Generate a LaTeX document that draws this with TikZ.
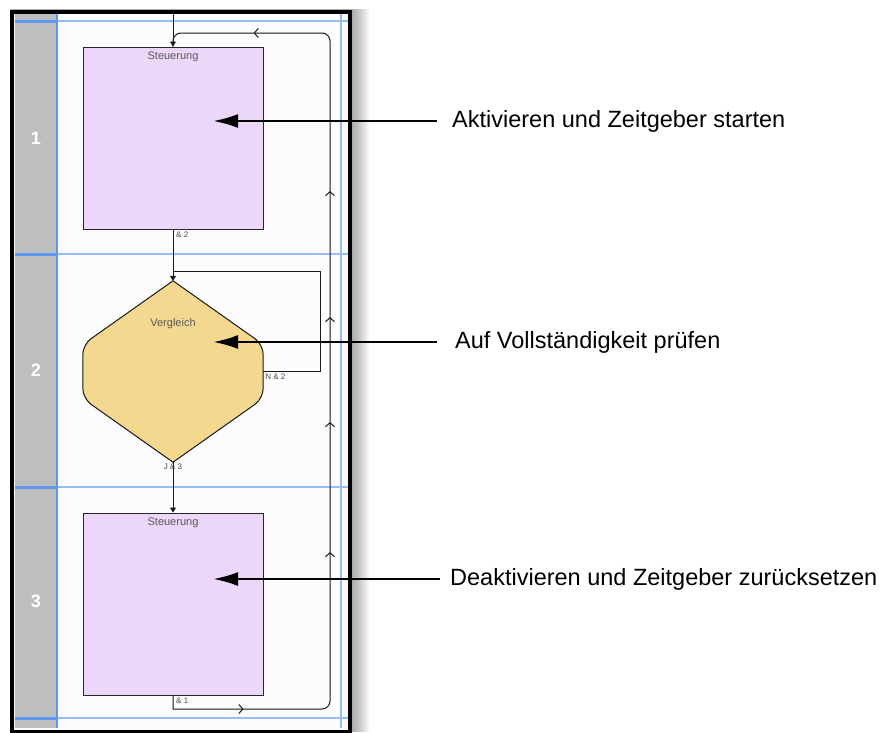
\documentclass[tikz,border=0pt]{standalone}
\usepackage{fontspec}
\setmainfont{Liberation Sans}
\usepackage{tikz}
\usetikzlibrary{calc,positioning,arrows.meta,decorations.markings,shapes}
\definecolor{lanegray}{RGB}{190,190,190}
\definecolor{laneblue}{RGB}{95,150,240}
\definecolor{gridblue}{RGB}{150,188,246}
\definecolor{steplilac}{RGB}{236,214,250}
\definecolor{decisionsand}{RGB}{245,216,143}
\definecolor{paper}{RGB}{252,251,253}
\tikzset{
  schritt/.style={
      draw=black!85,
      line width=1pt,
      fill=steplilac,
      minimum width=180pt,
      minimum height=182pt,
      inner sep=0pt,
  },
  vergleichbox/.style={
      minimum width=180pt,
      minimum height=181pt,
      inner sep=0pt,
  },
  fluss/.style={
      draw=black!90,
      line width=1pt,
  },
  flusspfeil/.style={
      fluss,
      -{Triangle[length=5pt,width=6pt]},
  },
  rueckfluss/.style={
      fluss,
      postaction={decorate},
      decoration={markings,
        mark=at position 84pt with {\arrow{Straight Barb[length=4pt,width=9pt]}},
        mark=at position 324pt with {\arrow{Straight Barb[length=4pt,width=9pt]}},
        mark=at position 454pt with {\arrow{Straight Barb[length=4pt,width=9pt]}},
        mark=at position 559pt with {\arrow{Straight Barb[length=4pt,width=9pt]}},
        mark=at position 685pt with {\arrow{Straight Barb[length=4pt,width=9pt]}},
        mark=at position 916pt with {\arrow{Straight Barb[length=4pt,width=9pt]}},
      },
  },
  kopf/.style={
      font=\fontsize{11}{11}\selectfont,
      text=black!65,
      inner sep=0pt,
  },
  ausgang/.style={
      font=\fontsize{8}{8}\selectfont,
      text=black!70,
      inner sep=1pt,
  },
  kommentar/.style={
      font=\fontsize{23.5}{26}\selectfont,
      anchor=west,
      inner sep=0pt,
  },
  zeiger/.style={
      line width=2.6pt,
      -{Latex[length=25pt,width=14pt]},
  },
  nummer/.style={
      text=white,
      font=\fontsize{18}{18}\selectfont\bfseries,
  },
}

\begin{document}
\begin{tikzpicture}[x=1pt,y=-1pt]
  \useasboundingbox (0,0) rectangle (886,732);

  % schatten und rahmen
  \foreach \k in {1,...,9}
    \fill[black,opacity=0.045] (10,9) rectangle (351+2*\k,732);
  \fill[paper] (12,12) rectangle (350,730);
  \fill[lanegray] (15,14) rectangle (56,728);

  % bahnen
  \foreach \y in {21,254,487,718} {
    \draw[gridblue,line width=1.2pt] (57,\y) -- (348,\y);
    \draw[laneblue,line width=3pt] (15,\y) -- (57,\y);
  }
  \draw[laneblue,line width=2.5pt] (57,14) -- (57,728);
  \draw[gridblue,line width=1.2pt] (341,14) -- (341,728);
  \foreach \nr/\y in {1/138,2/370,3/601}
    \node[nummer] (nr\nr) at (36,\y) {\nr};

  % schritte
  \node[schritt] (box1) at (173,138) {};
  \node[kopf, below=5pt of box1.north] (kopf1) {Steuerung};
  \node[vergleichbox] (hex) at (173,371.5) {};
  \draw[fluss, fill=decisionsand] (hex.north)
    [rounded corners=10pt] -- ($(hex.east)+(0,-27)$) -- ($(hex.east)+(0,27)$)
    [sharp corners] -- (hex.south)
    [rounded corners=10pt] -- ($(hex.west)+(0,27)$) -- ($(hex.west)+(0,-27)$)
    [sharp corners] -- cycle;
  \node[kopf] (kopf2) at (173,324) {Vergleich};
  \node[schritt] (box3) at (173,604) {};
  \node[kopf, below=5pt of box3.north] (kopf3) {Steuerung};

  % verbindungen
  \coordinate (eingang) at (173,14);
  \coordinate (nschleife) at (320,271);
  \coordinate (ruecku) at (330,709);
  \coordinate (rueckoben) at (330,33);
  \draw[flusspfeil] (eingang) -- (box1.north);
  \draw[flusspfeil] (box1.south) -- (hex.north);
  \draw[fluss] (hex.east) -| (nschleife) -- (nschleife -| hex.north);
  \draw[flusspfeil] (hex.south) -- (box3.north);
  \draw[rueckfluss] (box3.south) -- (box3.south |- ruecku)
    [rounded corners=8pt] -- (ruecku) -- (rueckoben) -- (rueckoben -| box1.north)
    -- (box1.north);
  \node[ausgang, anchor=north west] (aus1) at ($(box1.south)+(2,1)$) {\& 2};
  \node[ausgang, anchor=north west] (aus2) at ($(hex.east)+(1,1)$) {N \& 2};
  \node[ausgang, anchor=north] (aus3) at ($(hex.south)+(0,1)$) {J \& 3};
  \node[ausgang, anchor=north west] (aus4) at ($(box3.south)+(2,1)$) {\& 1};

  % rahmen oben drauf
  \draw[black,line width=4.5pt] (12,12) rectangle (350,732);

  % kommentare
  \node[kommentar] (k1) at (452,121) {Aktivieren und Zeitgeber starten};
  \node[kommentar] (k2) at (455,342) {Auf Vollständigkeit prüfen};
  \node[kommentar] (k3) at (450,579) {Deaktivieren und Zeitgeber zurücksetzen};
  \coordinate (ziel1) at (213,121);
  \coordinate (ziel2) at (213,342);
  \coordinate (ziel3) at (213,579);
  \draw[zeiger] ($(k1.west)+(-15,0)$) -- (ziel1);
  \draw[zeiger] ($(k2.west)+(-18,0)$) -- (ziel2);
  \draw[zeiger] ($(k3.west)+(-10,0)$) -- (ziel3);
%   \node[draw,fit=(box1)(box3)] {};
\end{tikzpicture}
\end{document}
